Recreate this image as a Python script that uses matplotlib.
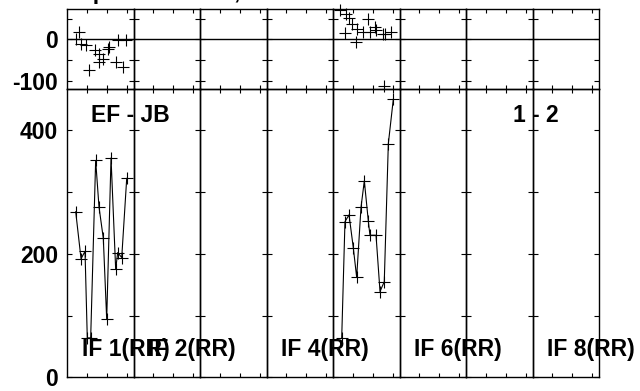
import numpy as np
import matplotlib
matplotlib.use('Agg')
import matplotlib.pyplot as plt

plt.rcParams['font.family'] = ['Liberation Sans', 'DejaVu Sans']
plt.rcParams['font.weight'] = 'bold'

# Data (x = fraction of time range inside each IF panel)
if_labels = ['IF 1(RR)', 'IF 2(RR)', '', 'IF 4(RR)', '', 'IF 6(RR)', '', 'IF 8(RR)']

# IF 1 (panel 0)
ph1_x = [0.135, 0.176, 0.211, 0.286, 0.335, 0.426, 0.486, 0.486, 0.546, 0.612,
         0.636, 0.737, 0.762, 0.838, 0.887]
ph1_y = [2, 18, -10, -14, -74, -26, -34, -54, -46, -22, -18, -54, -2, -66, -2]
amp1_x = [0.131, 0.211, 0.271, 0.305, 0.356, 0.431, 0.481, 0.546, 0.597, 0.662,
          0.732, 0.762, 0.823, 0.898]
amp1_y = [268, 192, 204, 64, 64, 351, 276, 225, 94, 355, 175, 202, 194, 322]

# IF 5 (panel 4)
ph5_x = [0.101, 0.176, 0.200, 0.241, 0.290, 0.350, 0.361, 0.451, 0.526, 0.552,
         0.627, 0.651, 0.752, 0.767, 0.777, 0.877]
ph5_y = [70, 16, 62, 52, 38, -6, 25, 18, 50, 18, 30, 22, 14, -112, 12, 18]
amp5_x = [0.131, 0.180, 0.241, 0.305, 0.356, 0.421, 0.471, 0.531, 0.556, 0.647,
          0.707, 0.771, 0.832, 0.907]
amp5_y = [64, 252, 263, 210, 162, 275, 318, 253, 230, 230, 139, 155, 378, 450]

series = {0: (ph1_x, ph1_y, amp1_x, amp1_y), 4: (ph5_x, ph5_y, amp5_x, amp5_y)}

ph_ticks = [-100, -50, 0, 50]
ph_ticklabels = ['-100', '', '0', '']
amp_ticks = [0, 100, 200, 300, 400]
amp_ticklabels = ['0', '', '200', '', '400']
x_ticks = [0.3, 0.6, 0.9]

fs = 16.5

fig = plt.figure(figsize=(6.4, 3.91), dpi=100)
gs = fig.add_gridspec(2, 8, left=67/640, right=599/640, top=1 - 9/391,
                      bottom=1 - 377.5/391, hspace=0, wspace=0,
                      height_ratios=[80.3, 288.2])

for k in range(8):
    axp = fig.add_subplot(gs[0, k])
    axa = fig.add_subplot(gs[1, k])
    for ax in (axp, axa):
        ax.patch.set_visible(False)
        ax.set_xlim(0, 1)
        ax.set_xticks(x_ticks)
        ax.set_xticklabels([])
        ax.tick_params(axis='x', direction='in', length=3, width=0.8,
                       top=True, bottom=True)
        ax.tick_params(axis='y', direction='in', length=3.6, width=0.8,
                       left=True, right=True, labelsize=fs, pad=6.5)
        for s in ax.spines.values():
            s.set_linewidth(1.0)
    axp.set_ylim(-120, 73)
    axp.set_yticks(ph_ticks)
    axa.set_ylim(0, 466)
    axa.set_yticks(amp_ticks)
    if k == 0:
        axp.set_yticklabels(ph_ticklabels, fontweight='bold')
        axa.set_yticklabels(amp_ticklabels, fontweight='bold')
    else:
        axp.set_yticklabels([])
        axa.set_yticklabels([])
    axp.axhline(0, color='black', linewidth=1.0)

    if k in series:
        px, py, axx, ayy = series[k]
        axp.plot(px, py, linestyle='none', marker='+', markersize=8,
                 markeredgewidth=0.8, color='black', clip_on=False)
        axa.plot(axx, ayy, color='black', linewidth=0.8, marker='+',
                 markersize=8, markeredgewidth=0.8, clip_on=False)

    if if_labels[k]:
        axa.text(0.22, 0.075, if_labels[k], transform=axa.transAxes,
                 fontsize=fs, fontweight='bold', ha='left', va='baseline',
                 clip_on=False)

    if k == 0:
        axa.text(0.36, 0.885, 'EF - JB', transform=axa.transAxes,
                 fontsize=fs, fontweight='bold', ha='left', va='baseline',
                 clip_on=False)
    if k == 6:
        axa.text(0.70, 0.885, '1 - 2', transform=axa.transAxes,
                 fontsize=fs, fontweight='bold', ha='left', va='baseline',
                 clip_on=False)

# title, mostly cut off above the figure
fig.text(56/640, 1 + 1/391, 'Amplitude vs UT, ', fontsize=fs,
         fontweight='bold', ha='left', va='baseline')

fig.savefig('out.png', dpi=100)
